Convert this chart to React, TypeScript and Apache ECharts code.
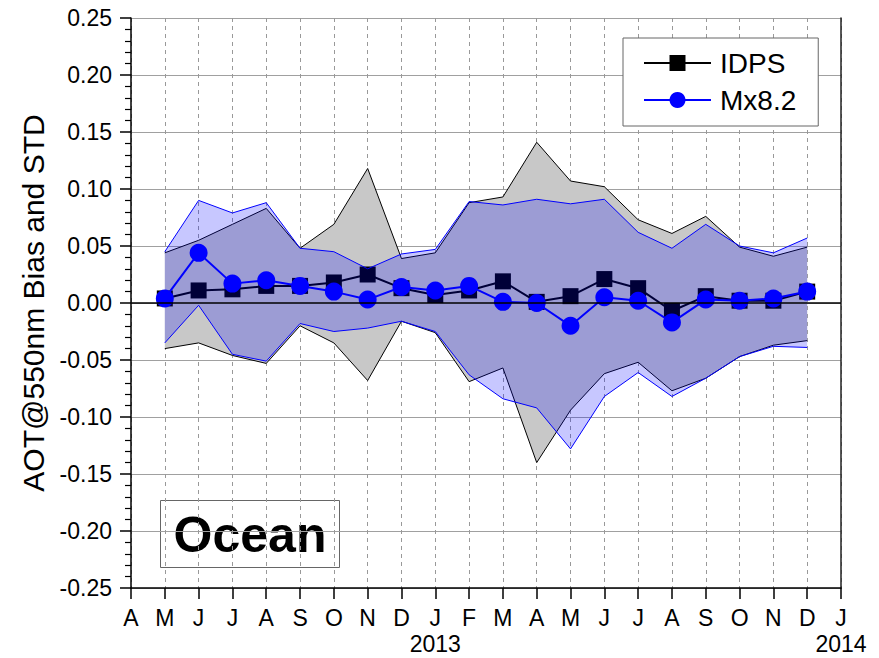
import React, { useEffect, useRef } from 'react';
import * as echarts from 'echarts';

// Month tick labels from Apr 2012 (index 0) to Jan 2014 (index 21)
const monthLabels = ['A', 'M', 'J', 'J', 'A', 'S', 'O', 'N', 'D', 'J', 'F', 'M', 'A', 'M', 'J', 'J', 'A', 'S', 'O', 'N', 'D', 'J'];
const yearTickIndex = [9, 21];
const yearTickText = ['2013', '2014'];

// Data months: May 2012 .. Dec 2013
const monthIndex = [1, 2, 3, 4, 5, 6, 7, 8, 9, 10, 11, 12, 13, 14, 15, 16, 17, 18, 19, 20];

const idpsBias = [0.004, 0.011, 0.012, 0.015, 0.015, 0.018, 0.025, 0.013, 0.007, 0.011, 0.019, 0.001, 0.006, 0.021, 0.013, -0.007, 0.006, 0.002, 0.002, 0.010];
const idpsUpper = [0.044, 0.055, 0.069, 0.083, 0.048, 0.069, 0.118, 0.039, 0.044, 0.088, 0.093, 0.141, 0.107, 0.102, 0.073, 0.061, 0.076, 0.049, 0.041, 0.049];
const idpsLower = [-0.040, -0.035, -0.046, -0.053, -0.020, -0.035, -0.068, -0.016, -0.026, -0.069, -0.057, -0.140, -0.094, -0.062, -0.052, -0.077, -0.066, -0.047, -0.037, -0.033];

const mxBias = [0.004, 0.044, 0.017, 0.020, 0.015, 0.010, 0.003, 0.014, 0.011, 0.015, 0.001, 0.000, -0.020, 0.005, 0.002, -0.017, 0.003, 0.002, 0.004, 0.010];
const mxUpper = [0.045, 0.090, 0.079, 0.088, 0.048, 0.045, 0.030, 0.043, 0.047, 0.089, 0.086, 0.091, 0.087, 0.091, 0.062, 0.048, 0.069, 0.050, 0.044, 0.057];
const mxLower = [-0.035, -0.002, -0.045, -0.051, -0.018, -0.025, -0.022, -0.016, -0.025, -0.063, -0.084, -0.092, -0.128, -0.082, -0.061, -0.082, -0.066, -0.047, -0.038, -0.039];

const FONT = '"Liberation Sans", Arial, Helvetica, sans-serif';

function bandSeries(name: string, lower: number[], upper: number[], fill: string, edge: string, z: number) {
  return {
    name,
    type: 'custom',
    silent: true,
    z,
    data: monthIndex.map((m, i) => [m, lower[i], upper[i]]),
    encode: { x: 0, y: [1, 2] },
    renderItem: (params: any, api: any) => {
      if (params.dataIndexInside !== 0) return null;
      const n = params.dataInsideLength;
      const top: number[][] = [];
      const bottom: number[][] = [];
      for (let j = 0; j < n; j++) {
        const x = api.value(0, j);
        top.push(api.coord([x, api.value(2, j)]));
        bottom.push(api.coord([x, api.value(1, j)]));
      }
      const poly = top.concat(bottom.slice().reverse());
      return {
        type: 'group',
        children: [
          { type: 'polygon', shape: { points: poly }, style: { fill, stroke: 'none' } },
          { type: 'polyline', shape: { points: top }, style: { fill: 'none', stroke: edge, lineWidth: 1 } },
          { type: 'polyline', shape: { points: bottom }, style: { fill: 'none', stroke: edge, lineWidth: 1 } },
        ],
      };
    },
  };
}

export default function App() {
  const ref = useRef<HTMLDivElement>(null);

  useEffect(() => {
    document.body.style.margin = '0';
    const chart = echarts.init(ref.current as HTMLDivElement, null, { renderer: 'svg' });

    const pts = (arr: number[]) => monthIndex.map((m, i) => [m, arr[i]]);

    const option: any = {
      animation: false,
      backgroundColor: '#ffffff',
      textStyle: { fontFamily: FONT },
      grid: { left: 131, top: 18, width: 710, height: 570, containLabel: false },
      legend: {
        data: ['IDPS', 'Mx8.2'],
        orient: 'vertical',
        left: 623,
        top: 38,
        z: 10,
        itemWidth: 67,
        itemHeight: 20,
        itemGap: 9,
        padding: [11, 22, 12, 20],
        backgroundColor: '#ffffff',
        borderColor: '#666666',
        borderWidth: 1,
        borderRadius: 0,
        selectedMode: false,
        textStyle: { fontSize: 28, color: '#000', fontFamily: FONT, lineHeight: 28, padding: [0, 0, 0, 4] },
      },
      xAxis: {
        type: 'value',
        min: 0,
        max: 21,
        interval: 1,
        axisLine: { show: true, onZero: false, lineStyle: { color: '#000', width: 1.5 } },
        axisTick: { show: true, length: 11, inside: false, lineStyle: { color: '#000', width: 1.5 } },
        axisLabel: {
          margin: 17,
          fontSize: 23,
          color: '#000',
          fontFamily: FONT,
          lineHeight: 26,
          formatter: (v: number) => {
            const k = yearTickIndex.indexOf(v);
            const m = monthLabels[v] ?? '';
            return k >= 0 ? m + '\n' + yearTickText[k] : m;
          },
        },
        splitLine: { show: true, lineStyle: { color: '#999', width: 1, type: [4, 4] } },
      },
      yAxis: [
        {
          type: 'value',
          min: -0.25,
          max: 0.25,
          interval: 0.05,
          name: 'AOT@550nm Bias and STD',
          nameLocation: 'middle',
          nameGap: 82,
          nameTextStyle: { fontSize: 30, color: '#000', fontFamily: FONT },
          axisLine: { show: true, onZero: false, lineStyle: { color: '#000', width: 1.5 } },
          axisTick: { show: true, length: 11, lineStyle: { color: '#000', width: 1.5 } },
          minorTick: { show: true, splitNumber: 5, length: 6, lineStyle: { color: '#000', width: 1.2 } },
          axisLabel: {
            margin: 19,
            fontSize: 23,
            color: '#000',
            fontFamily: FONT,
            formatter: (v: number) => v.toFixed(2),
          },
          splitLine: { show: true, lineStyle: { color: '#a0a0a0', width: 1 } },
        },
        {
          type: 'value',
          position: 'right',
          min: -0.25,
          max: 0.25,
          interval: 0.05,
          axisLine: { show: true, onZero: false, lineStyle: { color: '#222', width: 1.5 } },
          axisTick: { show: false },
          axisLabel: { show: false },
          splitLine: { show: false },
        },
      ],
      series: [
        bandSeries('IDPS STD', idpsLower, idpsUpper, '#c8c8c8', '#000000', 2),
        {
          name: 'zero',
          type: 'line',
          data: [],
          silent: true,
          z: 2,
          markLine: {
            silent: true,
            symbol: ['none', 'none'],
            label: { show: false },
            lineStyle: { color: '#000', width: 1.5, type: 'solid' },
            data: [{ yAxis: 0 }],
          },
        },
        {
          name: 'IDPS',
          type: 'line',
          z: 2,
          data: pts(idpsBias),
          symbol: 'rect',
          symbolSize: 16,
          itemStyle: { color: '#000' },
          lineStyle: { color: '#000', width: 2 },
        },
        bandSeries('Mx STD', mxLower, mxUpper, 'rgba(0,0,255,0.22)', '#0000ff', 3),
        {
          name: 'Mx8.2',
          type: 'line',
          z: 4,
          data: pts(mxBias),
          symbol: 'circle',
          symbolSize: 18,
          itemStyle: { color: '#0000ff' },
          lineStyle: { color: '#0000ff', width: 2 },
        },
      ],
      graphic: [
        {
          type: 'group',
          left: 160,
          top: 500,
          children: [
            {
              type: 'rect',
              shape: { x: 0, y: 0, width: 179, height: 67 },
              style: { fill: '#ffffff', stroke: '#666666', lineWidth: 1 },
            },
            {
              type: 'text',
              x: 89.5,
              y: 34,
              style: {
                text: 'Ocean',
                fontSize: 50,
                fontWeight: 'bold',
                fontFamily: FONT,
                fill: '#000',
                align: 'center',
                verticalAlign: 'middle',
              },
            },
          ],
        },
      ],
    };

    chart.setOption(option);
    return () => {
      chart.dispose();
    };
  }, []);

  return <div ref={ref} style={{ position: 'fixed', left: 0, top: 0, width: 879, height: 658 }} />;
}
